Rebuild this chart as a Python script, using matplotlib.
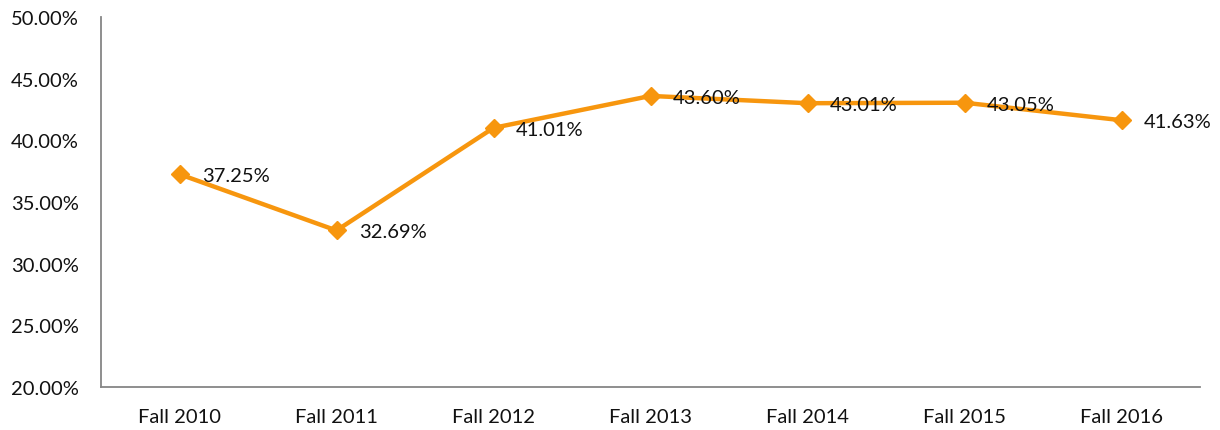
import matplotlib

matplotlib.use("Agg")
import matplotlib.pyplot as plt
from matplotlib.ticker import FuncFormatter

terms = ["Fall 2010", "Fall 2011", "Fall 2012", "Fall 2013",
         "Fall 2014", "Fall 2015", "Fall 2016"]
rates = [37.25, 32.69, 41.01, 43.60, 43.01, 43.05, 41.63]
y_ticks = [20, 25, 30, 35, 40, 45, 50]

plt.rcParams["font.family"] = ["Lato", "DejaVu Sans"]

fig = plt.figure(figsize=(12.2, 4.31), dpi=100)
ax = fig.add_axes([101 / 1220, 43 / 431, 1099 / 1220, 370 / 431])

x = list(range(len(terms)))
ax.plot(x, rates, color="#F7960E", linewidth=3.2, marker="D",
        markersize=9, markeredgecolor="#F7960E", markerfacecolor="#F7960E")
for xi, v in zip(x, rates):
    ax.annotate(f"{v:.2f}%", xy=(xi, v), xytext=(16, -1),
                textcoords="offset points", ha="left", va="center",
                fontsize=14.5, color="#111111")

ax.set_xlim(-0.5, len(terms) - 0.5)
ax.set_ylim(20, 50)
ax.set_yticks(y_ticks)
ax.yaxis.set_major_formatter(FuncFormatter(lambda v, _: f"{v:.2f}%"))
ax.set_xticks(x, terms)
ax.tick_params(axis="both", length=0, labelsize=14.5, colors="#111111")
ax.tick_params(axis="y", pad=16)
ax.tick_params(axis="x", pad=15)
for side in ("top", "right"):
    ax.spines[side].set_visible(False)
for side in ("left", "bottom"):
    ax.spines[side].set_color("#868686")
    ax.spines[side].set_linewidth(1.3)

fig.savefig("out.png", dpi=100)
